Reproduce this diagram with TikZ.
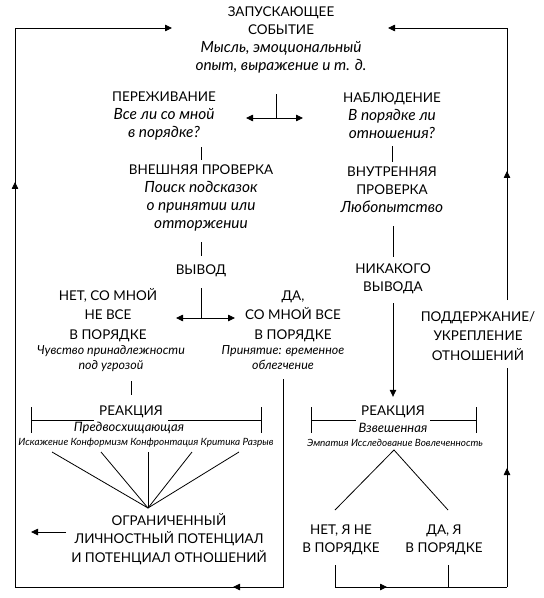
\documentclass[tikz,border=0pt]{standalone}
\usepackage{fontspec}
\setmainfont{Lato}
\usetikzlibrary{arrows.meta,positioning,calc,decorations.markings}
\newcommand{\fsz}[2]{\fontsize{#1}{#2}\selectfont}
\newcommand{\itl}[1]{{\fsz{15.5}{18}\itshape #1}}
\newcommand{\reabr}[3]{%
  \draw[ln] (#2,407) -- (#2,433) (#3,407) -- (#3,433);
  \draw[ln] (#2,420) -- ($(#1.west |- 0,420)+(-4,0)$);
  \draw[ln] ($(#1.east |- 0,420)+(4,0)$) -- (#3,420);}
\tikzset{
  >={Triangle[length=7bp,width=6.5bp]},
  ln/.style={line width=0.8bp, black},
  arr/.style={ln, ->},
  dbl/.style={ln, <->},
  midarr/.style={postaction={decorate, decoration={markings,
      mark=at position #1 with {\arrow{>}}}}},
  lbl/.style={align=center, inner sep=1bp, font=\fsz{13.5}{18}},
  lblw/.style={lbl, font=\fsz{13.5}{19.5}},
  descr/.style={align=center, inner sep=1bp, font=\fsz{12.5}{15}\itshape},
  itm/.style={inner sep=1bp, font=\fsz{10}{11}\itshape},
}
\begin{document}
\begin{tikzpicture}[x=1bp,y=-1bp]
\useasboundingbox (0,0) rectangle (544,598);
\node[lbl] (zap) at (281,40) {ЗАПУСКАЮЩЕЕ\\СОБЫТИЕ\\\itl{Мысль, эмоциональный}\\\itl{опыт, выражение и т. д.}};
\node[lbl] (per) at (164,116) {ПЕРЕЖИВАНИЕ\\\itl{Все ли со мной}\\\itl{в порядке?}};
\node[lbl] (nab) at (392,116) {НАБЛЮДЕНИЕ\\\itl{В порядке ли}\\\itl{отношения?}};
\node[lbl] (vnesh) at (201,198) {ВНЕШНЯЯ ПРОВЕРКА\\\itl{Поиск подсказок}\\\itl{о принятии или}\\\itl{отторжении}};
\node[lbl] (vnutr) at (392,190) {ВНУТРЕННЯЯ\\ПРОВЕРКА\\\itl{Любопытство}};
\node[lbl] (vyvod) at (201,271) {ВЫВОД};
\node[lbl] (nikak) at (393,279) {НИКАКОГО\\ВЫВОДА};
\node[lblw] (net) at (108,315) {НЕТ, СО МНОЙ\\НЕ ВСЕ\\В ПОРЯДКЕ};
\node[descr] (netn) at (111,359) {Чувство принадлежности\\под угрозой};
\node[lblw] (da) at (293,316) {ДА,\\СО МНОЙ ВСЕ\\В ПОРЯДКЕ};
\node[descr] (dan) at (283,358) {Принятие: временное\\облегчение};
\node[lblw, inner ysep=7bp] (podd) at (478,336) {ПОДДЕРЖАНИЕ/\\УКРЕПЛЕНИЕ\\ОТНОШЕНИЙ};
\node[lbl] (rea1) at (131,412) {РЕАКЦИЯ};
\node[descr, font=\fsz{13}{14}\itshape] (rea1n) at (129,428) {Предвосхищающая};
\node[lbl] (rea2) at (393,412) {РЕАКЦИЯ};
\node[descr, font=\fsz{13}{14}\itshape] (rea2n) at (393,428) {Взвешенная};
\node[itm] (it1) at (146,443) {Искажение Конформизм Конфронтация Критика Разрыв};
\node[itm] (it2) at (395,443) {Эмпатия Исследование Вовлеченность};
\node[lbl, font=\fsz{13.5}{18.5}] (ogr) at (169,539) {ОГРАНИЧЕННЫЙ\\ЛИЧНОСТНЫЙ ПОТЕНЦИАЛ\\И ПОТЕНЦИАЛ ОТНОШЕНИЙ};
\node[lbl] (netja) at (341,540) {НЕТ, Я НЕ\\В ПОРЯДКЕ};
\node[lbl] (daja) at (444,540) {ДА, Я\\В ПОРЯДКЕ};

\coordinate (f1) at (276,118);
\coordinate (f2) at (201,318);
\coordinate (ap1) at (148,508);
\coordinate (ap2) at (394,450);
\coordinate (cBL) at (15,587);
\coordinate (cTL) at (15,28);
\coordinate (cTR) at (507,28);
\coordinate (cBR) at (507,587);
\coordinate (zapL) at (172,28);
\coordinate (zapR) at (388,28);
\coordinate (rA) at (335,565);
\coordinate (rB) at (448,565);
\coordinate (rUp) at (507,300);
\coordinate (ogrL) at (66,532);

\draw[ln] (f1) -- ++(0,-24);
\draw[dbl] ([xshift=-30bp]f1) -- ([xshift=27bp]f1);
\draw[ln, shorten <=6bp, shorten >=4bp] (vnesh.north |- per.south) -- (vnesh.north);
\draw[ln, shorten <=6bp, shorten >=4bp] (vnutr.north |- nab.south) -- (vnutr.north);
\draw[ln, shorten <=10bp, shorten >=8bp] (vyvod.north |- vnesh.south) -- (vyvod.north);
\draw[ln, shorten <=10bp] (vyvod.south) -- (f2);
\draw[dbl] ([xshift=-25bp]f2) -- ([xshift=34bp]f2);
\draw[ln, shorten <=12bp, shorten >=6bp] (nikak.north |- vnutr.south) -- (nikak.north);
\draw[arr, shorten <=8bp, shorten >=8bp] (nikak.south) -- (rea2.north);
\draw[ln, shorten <=8bp, shorten >=10bp] (rea1.north |- netn.south) -- (rea1.north);
\reabr{rea1}{31}{261}
\reabr{rea2}{311}{476}
\foreach \x in {52,101,148,192,239}
  \draw[ln] (ap1) -- (\x,452);
\draw[ln] (rA |- 0,510) -- (ap2) -- (rB |- 0,510);
\draw[arr] (ogrL) -- ++(-35,0);

\draw[ln] ([yshift=-8bp]dan.south) |- (cBL);
\draw[arr] (dan.south |- cBL) -- ++(-50,0);
\draw[arr, midarr=405bp] (cBL) -- (cTL) -- (zapL);
\draw[ln] (rA) |- (cBR);
\draw[ln] (rB) -- (rB |- cBR);
\draw[arr] (rA |- cBR) -- ++(52,0);
\draw[ln, midarr=119bp] (cBR) -- (podd.south -| cBR);
\draw[arr, midarr=129bp] (rUp) -- (cTR) -- (zapR);
\end{tikzpicture}
\end{document}
